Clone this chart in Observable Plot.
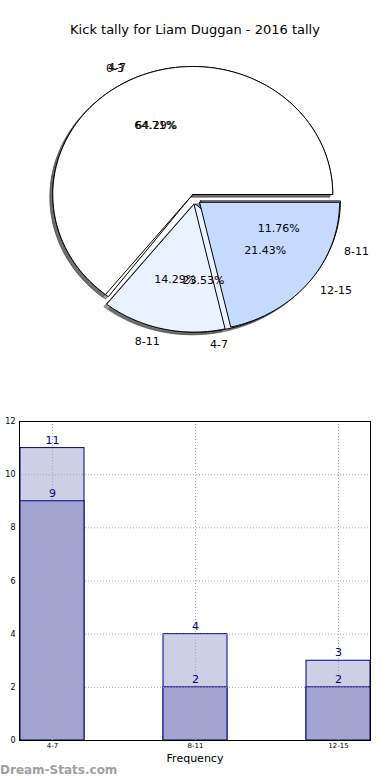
<!DOCTYPE html>
<html><head><meta charset="utf-8">
<script src="https://cdn.jsdelivr.net/npm/d3@7"></script>
<script src="https://cdn.jsdelivr.net/npm/@observablehq/plot@0.6"></script>
<style>
body{margin:0;background:#fff;font-family:"DejaVu Sans",sans-serif;}
#wrap{position:relative;width:390px;height:780px;overflow:hidden;background:#fff;}
#title{position:absolute;top:22px;left:0;width:390px;text-align:center;font-size:13px;color:#000;}
#pie{position:absolute;top:0;left:0;}
#bars{position:absolute;top:400px;left:0;}
#wm{position:absolute;left:0;top:763px;font-size:12px;font-weight:bold;color:#a0a0a0;}
</style></head><body>
<div id="wrap"><div id="pie"></div><div id="bars"></div><div id="title">Kick tally for Liam Duggan - 2016 tally</div><div id="wm">Dream-Stats.com</div></div>
<script>
// ---- data ----
const pieA_labels = ["4-7", "8-11", "12-15"];
const pieA_values = [9, 2, 3];
const pieB_labels = ["0-3", "4-7", "8-11"];
const pieB_values = [11, 4, 2];
const wedgeColors = ["#ffffff", "#eaf1ff", "#c6d9ff"];
const barCategories = ["4-7", "8-11", "12-15"];
const barTotals = [11, 4, 3];
const barValues = [9, 2, 2];
const yTicks = [0, 2, 4, 6, 8, 10, 12];

const explode = 0.04;

function wedges(labels, values) {
  const total = d3.sum(values);
  let a = 0;
  return values.map((v, i) => {
    const a0 = a, a1 = a + v / total * 2 * Math.PI; a = a1;
    const mid = (a0 + a1) / 2;
    const cx = explode * Math.cos(mid), cy = explode * Math.sin(mid);
    const n = Math.max(2, Math.ceil((a1 - a0) / (Math.PI / 120)));
    const pts = [{x: cx, y: cy}];
    for (let k = 0; k <= n; k++) {
      const t = a0 + (a1 - a0) * k / n;
      pts.push({x: cx + Math.cos(t), y: cy + Math.sin(t)});
    }
    pts.push({x: cx, y: cy});
    return {
      label: labels[i], value: v, pct: (v / total * 100).toFixed(2) + "%",
      color: wedgeColors[i], pts,
      lx: cx + 1.1 * Math.cos(mid), ly: cy + 1.1 * Math.sin(mid),
      px: cx + 0.6 * Math.cos(mid), py: cy + 0.6 * Math.sin(mid)
    };
  });
}

const wA = wedges(pieA_labels, pieA_values);
const wB = wedges(pieB_labels, pieB_values);
const all = [...wB, ...wA];

const pieMarks = [];
for (const w of all) {
  pieMarks.push(Plot.line(w.pts.map(p => ({x: p.x - 0.02, y: p.y - 0.02})),
    {x: "x", y: "y", fill: "#4d4d4d", fillOpacity: 0.55, stroke: "#4d4d4d", strokeOpacity: 0.55, strokeWidth: 1, curve: "linear"}));
}
for (const w of all) {
  pieMarks.push(Plot.line(w.pts, {x: "x", y: "y", fill: w.color, stroke: "black", strokeWidth: 1, curve: "linear"}));
}
const txt = {fontSize: 11, fill: "black"};
pieMarks.push(Plot.text(all.filter(w => w.lx >= 0), {x: "lx", y: "ly", text: "label", textAnchor: "start", ...txt}));
pieMarks.push(Plot.text(all.filter(w => w.lx < 0), {x: "lx", y: "ly", text: "label", textAnchor: "end", ...txt}));
pieMarks.push(Plot.text(all, {x: "px", y: "py", text: "pct", textAnchor: "middle", ...txt}));

const pie = Plot.plot({
  width: 390, height: 400, margin: 0,
  x: {domain: [-1.3907, 1.395], axis: null},
  y: {domain: [-1.5734, 1.5516], axis: null},
  style: {fontFamily: "DejaVu Sans", background: "transparent"},
  marks: pieMarks
});
document.getElementById("pie").append(pie);

const barData = barCategories.map((c, i) => ({cat: c, total: barTotals[i], value: barValues[i]}));
const grid = {stroke: "#a8a8a8", strokeOpacity: 1, strokeDasharray: "1,2", strokeWidth: 1};
const bars = Plot.plot({
  width: 390, height: 380,
  marginTop: 21, marginBottom: 40, marginLeft: 19, marginRight: 20,
  x: {domain: barCategories, paddingInner: 0.554, paddingOuter: 0, align: 0.5},
  y: {domain: [0, 12]},
  style: {fontFamily: "DejaVu Sans", background: "transparent"},
  marks: [
    Plot.barY(barData, {x: "cat", y: "total", fill: "#cdcfe6", stroke: "#000080", strokeWidth: 1}),
    Plot.barY(barData, {x: "cat", y: "value", fill: "#a3a5d0", stroke: "#000080", strokeWidth: 1}),
    Plot.gridY(yTicks, grid),
    Plot.gridX(barCategories, grid),
    Plot.frame({stroke: "black", strokeWidth: 1}),
    Plot.axisY(yTicks, {tickSize: 0, tickPadding: 4, fontSize: 8, label: null, tickFormat: d => String(d)}),
    Plot.axisX({tickSize: 0, tickPadding: 3, fontSize: 7, label: null}),
    Plot.text(barData, {x: "cat", y: "total", text: d => String(d.total), dy: -8, fill: "#000080", fontSize: 11}),
    Plot.text(barData, {x: "cat", y: "value", text: d => String(d.value), dy: -8, fill: "#000080", fontSize: 11}),
    Plot.text(["Frequency"], {frameAnchor: "bottom", dy: 21, text: d => d, fontSize: 11, fill: "black"}),
    Plot.text(["Distribution"], {frameAnchor: "left", dx: -24, rotate: -90, text: d => d, fontSize: 11, fill: "black"})
  ]
});
document.getElementById("bars").append(bars);
</script>
</body></html>
